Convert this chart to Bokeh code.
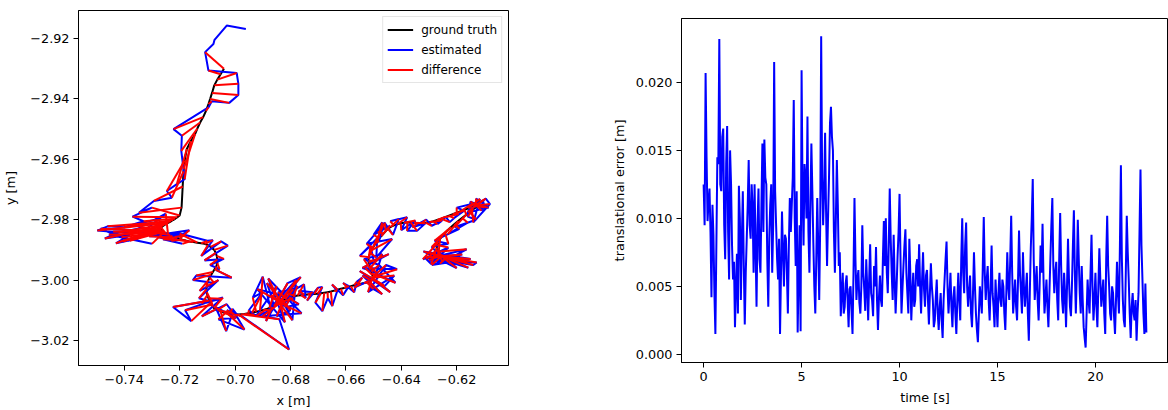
from bokeh.plotting import figure
from bokeh.layouts import row, column
from bokeh.models import Range1d, FixedTicker, CustomJSTickFormatter, ColumnDataSource, Spacer
from bokeh.embed import file_html
from bokeh.resources import INLINE

# ---------------- trajectory data (left panel) ----------------
gt_x = [
    -0.7040, -0.7052, -0.7064, -0.7075, -0.7083, -0.7090, -0.7096, -0.7105, -0.7115, -0.7126,
    -0.7136, -0.7144, -0.7160, -0.7174, -0.7182, -0.7186, -0.7189, -0.7193,
    -0.7200, -0.7208, -0.7216, -0.7224, -0.7232, -0.7240, -0.7248, -0.7256, -0.7262, -0.7266,
    -0.7268, -0.7266, -0.7262,
    -0.7261, -0.7260, -0.7259, -0.7258, -0.7257, -0.7257, -0.7256, -0.7256,
    -0.7256, -0.7250, -0.7242, -0.7234, -0.7226, -0.7218, -0.7210,
    -0.7200, -0.7190, -0.7178, -0.7165, -0.7150, -0.7136, -0.7122, -0.7110, -0.7098, -0.7088,
    -0.7075, -0.7070, -0.7066, -0.7064, -0.7064, -0.7068, -0.7074, -0.7080, -0.7086, -0.7092,
    -0.7096, -0.7100, -0.7102, -0.7103, -0.7102, -0.7100, -0.7096,
    -0.7092, -0.7088, -0.7084, -0.7080, -0.7076, -0.7070, -0.7064, -0.7058, -0.7052, -0.7046,
    -0.7040, -0.7034, -0.7028, -0.7020, -0.7012, -0.7004, -0.6996, -0.6988, -0.6978, -0.6966, -0.6952,
    -0.6938, -0.6924, -0.6910, -0.6898, -0.6886, -0.6876, -0.6866, -0.6858, -0.6851, -0.6845,
    -0.6840,
    -0.6839, -0.6838, -0.6838, -0.6837, -0.6837, -0.6836, -0.6836, -0.6836,
    -0.6836, -0.6832, -0.6828, -0.6824, -0.6819, -0.6813, -0.6806, -0.6798, -0.6790,
    -0.6782, -0.6774,
    -0.6762, -0.6750, -0.6738, -0.6726, -0.6714, -0.6702, -0.6690, -0.6678, -0.6666, -0.6654,
    -0.6642, -0.6630, -0.6618, -0.6606, -0.6594, -0.6582, -0.6570, -0.6558, -0.6546, -0.6534,
    -0.6524, -0.6516, -0.6510, -0.6506,
    -0.6505, -0.6505, -0.6504, -0.6504, -0.6504, -0.6504,
    -0.6504, -0.6504, -0.6506, -0.6508, -0.6510, -0.6512,
    -0.6514, -0.6516, -0.6518, -0.6518, -0.6518, -0.6517, -0.6515, -0.6512, -0.6508, -0.6503,
    -0.6498, -0.6492, -0.6486, -0.6479, -0.6472, -0.6464, -0.6456, -0.6448,
    -0.6438, -0.6426, -0.6414, -0.6402, -0.6390, -0.6378, -0.6366, -0.6354, -0.6340, -0.6326,
    -0.6312, -0.6298, -0.6284, -0.6270, -0.6256, -0.6242, -0.6228, -0.6214, -0.6200, -0.6186,
    -0.6172, -0.6158, -0.6146, -0.6136,
    -0.6134, -0.6132, -0.6131, -0.6130, -0.6129,
    -0.6128, -0.6124, -0.6128,
    -0.6140, -0.6152, -0.6166, -0.6180, -0.6194, -0.6208, -0.6220, -0.6232, -0.6242, -0.6252,
    -0.6260, -0.6266, -0.6270, -0.6272, -0.6272, -0.6270, -0.6268, -0.6265, -0.6262, -0.6258,
    -0.6257, -0.6256, -0.6256, -0.6255, -0.6255, -0.6254, -0.6254, -0.6254,
    -0.6254, -0.6250, -0.6246, -0.6242, -0.6238,
]
gt_y = [
    -2.9300, -2.9318, -2.9336, -2.9355, -2.9380, -2.9400, -2.9417, -2.9440, -2.9460, -2.9478,
    -2.9498, -2.9516, -2.9540, -2.9566, -2.9605, -2.9640, -2.9690, -2.9760,
    -2.9786, -2.9792, -2.9797, -2.9801, -2.9806, -2.9810, -2.9814, -2.9818, -2.9822, -2.9826,
    -2.9830, -2.9834, -2.9838,
    -2.9839, -2.9840, -2.9840, -2.9841, -2.9841, -2.9842, -2.9842, -2.9842,
    -2.9842, -2.9845, -2.9848, -2.9851, -2.9854, -2.9857, -2.9860,
    -2.9863, -2.9866, -2.9869, -2.9872, -2.9874, -2.9876, -2.9878, -2.9880, -2.9884, -2.9890,
    -2.9900, -2.9910, -2.9920, -2.9932, -2.9944, -2.9955, -2.9964, -2.9973, -2.9982, -2.9991,
    -3.0000, -3.0010, -3.0020, -3.0030, -3.0040, -3.0050, -3.0060,
    -3.0068, -3.0075, -3.0082, -3.0088, -3.0093, -3.0097, -3.0100, -3.0102, -3.0104, -3.0106,
    -3.0108, -3.0109, -3.0110, -3.0111, -3.0112, -3.0113, -3.0114, -3.0114, -3.0113, -3.0112, -3.0110,
    -3.0108, -3.0105, -3.0102, -3.0099, -3.0096, -3.0092, -3.0089, -3.0086, -3.0083, -3.0080,
    -3.0077,
    -3.0076, -3.0076, -3.0075, -3.0075, -3.0074, -3.0074, -3.0074, -3.0074,
    -3.0074, -3.0071, -3.0068, -3.0065, -3.0063, -3.0061, -3.0059, -3.0057, -3.0055,
    -3.0053, -3.0051,
    -3.0050, -3.0049, -3.0048, -3.0047, -3.0046, -3.0045, -3.0044, -3.0042, -3.0040, -3.0038,
    -3.0035, -3.0032, -3.0029, -3.0026, -3.0023, -3.0020, -3.0017, -3.0014, -3.0012, -3.0010,
    -3.0008, -3.0005, -3.0001, -2.9996,
    -2.9995, -2.9994, -2.9993, -2.9992, -2.9991, -2.9991,
    -2.9990, -2.9984, -2.9978, -2.9972, -2.9966, -2.9960,
    -2.9954, -2.9948, -2.9942, -2.9936, -2.9930, -2.9924, -2.9917, -2.9910, -2.9902, -2.9894,
    -2.9886, -2.9878, -2.9870, -2.9862, -2.9854, -2.9846, -2.9838, -2.9830,
    -2.9824, -2.9819, -2.9815, -2.9812, -2.9810, -2.9809, -2.9809, -2.9810, -2.9811, -2.9811,
    -2.9810, -2.9808, -2.9805, -2.9801, -2.9797, -2.9792, -2.9787, -2.9782, -2.9777, -2.9772,
    -2.9767, -2.9762, -2.9758, -2.9754,
    -2.9754, -2.9753, -2.9753, -2.9752, -2.9752,
    -2.9752, -2.9754, -2.9758,
    -2.9765, -2.9774, -2.9784, -2.9794, -2.9804, -2.9814, -2.9824, -2.9834, -2.9844, -2.9854,
    -2.9864, -2.9874, -2.9884, -2.9893, -2.9900, -2.9906, -2.9911, -2.9915, -2.9918, -2.9920,
    -2.9920, -2.9921, -2.9921, -2.9921, -2.9922, -2.9922, -2.9922, -2.9922,
    -2.9922, -2.9923, -2.9924, -2.9925, -2.9926,
]
# estimated positions [m]; the first 4 samples precede the ground-truth record
est_lead = 4
est_x = [
    -0.6961, -0.7030, -0.7074, -0.7078,
    -0.7108, -0.7096, -0.6994, -0.6988, -0.6988, -0.7021, -0.7084, -0.7096, -0.7222, -0.7192,
    -0.7194, -0.7186, -0.7182, -0.7210, -0.7246, -0.7228, -0.7293, -0.7347,
    -0.7300, -0.7370, -0.7330, -0.7400, -0.7460, -0.7497, -0.7420, -0.7470, -0.7380, -0.7430,
    -0.7350, -0.7405, -0.7320,
    -0.7440, -0.7380, -0.7485, -0.7350, -0.7410, -0.7300, -0.7455, -0.7330,
    -0.7365, -0.7290, -0.7250, -0.7330, -0.7260, -0.7180, -0.7310,
    -0.7165, -0.7230, -0.7260, -0.7190, -0.7275, -0.7200, -0.7100, -0.7080, -0.7122, -0.7050,
    -0.7026, -0.7110, -0.7040, -0.7090, -0.7056, -0.7068, -0.7012, -0.7140, -0.7152, -0.7075,
    -0.7128, -0.7104, -0.7060, -0.7130, -0.7085, -0.7120, -0.7050,
    -0.7224, -0.7158, -0.7180, -0.7086, -0.7044, -0.7120, -0.7030, -0.7008, -0.7032, -0.7070,
    -0.6996, -0.7060, -0.6966, -0.7010, -0.6990, -0.7030, -0.6975, -0.6805, -0.6840, -0.6930, -0.6950,
    -0.6900, -0.6936, -0.6900, -0.6870, -0.6924, -0.6850, -0.6888, -0.6810, -0.6763, -0.6830,
    -0.6793,
    -0.6780, -0.6900, -0.6760, -0.6880, -0.6820, -0.6920, -0.6790, -0.6860,
    -0.6870, -0.6885, -0.6800, -0.6850, -0.6790, -0.6845, -0.6770, -0.6820, -0.6775,
    -0.6810, -0.6751,
    -0.6745, -0.6770, -0.6720, -0.6740, -0.6700, -0.6685, -0.6710, -0.6685, -0.6665, -0.6649,
    -0.6631, -0.6650, -0.6610, -0.6589, -0.6610, -0.6570, -0.6560, -0.6541, -0.6570, -0.6517,
    -0.6500, -0.6469, -0.6540, -0.6480,
    -0.6440, -0.6550, -0.6460, -0.6425, -0.6520, -0.6455,
    -0.6415, -0.6530, -0.6421, -0.6480, -0.6535, -0.6469,
    -0.6490, -0.6540, -0.6445, -0.6500, -0.6511, -0.6550, -0.6487, -0.6490, -0.6433, -0.6525,
    -0.6463, -0.6480, -0.6469, -0.6500, -0.6440, -0.6485, -0.6460, -0.6430,
    -0.6409, -0.6440, -0.6379, -0.6400, -0.6349, -0.6379, -0.6343, -0.6313, -0.6360, -0.6310,
    -0.6290, -0.6253, -0.6270, -0.6240, -0.6225, -0.6193, -0.6210, -0.6173, -0.6200, -0.6146,
    -0.6165, -0.6116, -0.6140, -0.6080,
    -0.6095, -0.6160, -0.6085, -0.6130, -0.6110,
    -0.6105, -0.6100, -0.6150,
    -0.6160, -0.6130, -0.6208, -0.6160, -0.6232, -0.6190, -0.6260, -0.6280, -0.6230, -0.6290,
    -0.6266, -0.6322, -0.6230, -0.6292, -0.6310, -0.6164, -0.6250, -0.6164, -0.6300, -0.6128,
    -0.6140, -0.6310, -0.6180, -0.6290, -0.6150, -0.6320, -0.6200, -0.6270,
    -0.6280, -0.6158, -0.6300, -0.6200, -0.6260,
]
est_y = [
    -2.9168, -2.9157, -2.9204, -2.9218,
    -2.9245, -2.9306, -2.9314, -2.9350, -2.9387, -2.9413, -2.9408, -2.9428, -2.9500, -2.9522,
    -2.9572, -2.9633, -2.9666, -2.9682, -2.9705, -2.9727, -2.9738, -2.9777,
    -2.9760, -2.9790, -2.9805, -2.9825, -2.9822, -2.9836, -2.9842, -2.9862, -2.9850, -2.9878,
    -2.9862, -2.9872, -2.9845,
    -2.9840, -2.9870, -2.9830, -2.9835, -2.9858, -2.9880, -2.9850, -2.9826,
    -2.9818, -2.9800, -2.9780, -2.9838, -2.9862, -2.9852, -2.9855,
    -2.9835, -2.9870, -2.9865, -2.9880, -2.9858, -2.9846, -2.9870, -2.9868, -2.9920, -2.9872,
    -2.9886, -2.9935, -2.9930, -2.9950, -2.9964, -2.9967, -2.9992, -2.9985, -3.0000, -3.0010,
    -3.0036, -3.0025, -3.0000, -3.0060, -3.0072, -3.0078, -3.0062,
    -3.0089, -3.0136, -3.0100, -3.0069, -3.0058, -3.0120, -3.0080, -3.0108, -3.0169, -3.0090,
    -3.0125, -3.0130, -3.0164, -3.0095, -3.0118, -3.0100, -3.0120, -3.0230, -3.0130, -3.0115, -3.0100,
    -3.0040, -3.0058, -2.9989, -3.0100, -3.0119, -3.0020, -3.0136, -3.0010, -2.9990, -3.0065,
    -3.0133,
    -3.0000, -3.0120, -3.0110, -2.9995, -3.0140, -3.0030, -3.0060, -3.0085,
    -3.0050, -3.0010, -3.0100, -3.0120, -3.0030, -3.0040, -3.0080, -3.0090, -3.0020,
    -3.0045, -3.0014,
    -3.0060, -3.0035, -3.0040, -3.0068, -3.0025, -3.0023, -3.0075, -3.0103, -3.0060, -3.0086,
    -3.0036, -3.0015, -3.0050, -3.0020, -3.0010, -3.0040, -3.0005, -2.9992, -3.0025, -3.0003,
    -3.0030, -3.0047, -2.9985, -3.0010,
    -3.0040, -2.9970, -3.0020, -2.9985, -3.0040, -2.9950,
    -2.9964, -2.9960, -3.0009, -2.9950, -2.9931, -2.9914,
    -2.9975, -2.9960, -2.9914, -2.9935, -2.9886, -2.9920, -2.9861, -2.9925, -2.9864, -2.9880,
    -2.9814, -2.9870, -2.9809, -2.9850, -2.9820, -2.9840, -2.9810, -2.9850,
    -2.9798, -2.9805, -2.9792, -2.9835, -2.9803, -2.9837, -2.9837, -2.9812, -2.9825, -2.9800,
    -2.9820, -2.9803, -2.9815, -2.9790, -2.9808, -2.9781, -2.9795, -2.9770, -2.9760, -2.9748,
    -2.9785, -2.9731, -2.9809, -2.9748,
    -2.9730, -2.9775, -2.9760, -2.9730, -2.9770,
    -2.9735, -2.9760, -2.9740,
    -2.9790, -2.9800, -2.9825, -2.9810, -2.9848, -2.9830, -2.9860, -2.9870, -2.9880, -2.9890,
    -2.9914, -2.9931, -2.9892, -2.9947, -2.9930, -2.9898, -2.9940, -2.9942, -2.9935, -2.9942,
    -2.9950, -2.9925, -2.9915, -2.9950, -2.9930, -2.9905, -2.9960, -2.9900,
    -2.9925, -2.9959, -2.9910, -2.9935, -2.9945,
]

# ---------------- error data (right panel) ----------------
time_s = [
    0.00, 0.05, 0.10, 0.15, 0.20, 0.25, 0.30, 0.35, 0.40, 0.45, 0.50, 0.55, 0.60, 0.65, 0.70, 0.75, 0.80, 0.85, 0.90, 0.95,
    1.00, 1.05, 1.10, 1.15, 1.20, 1.25, 1.30, 1.35, 1.40, 1.45, 1.50, 1.55, 1.60, 1.65, 1.70, 1.75, 1.80, 1.85, 1.90, 1.95,
    2.00, 2.05, 2.10, 2.15, 2.20, 2.25, 2.30, 2.35, 2.40, 2.45, 2.50, 2.55, 2.60, 2.65, 2.70, 2.75, 2.80, 2.85, 2.90, 2.95,
    3.00, 3.05, 3.10, 3.15, 3.20, 3.25, 3.30, 3.35, 3.40, 3.45, 3.50, 3.55, 3.60, 3.65, 3.70, 3.75, 3.80, 3.85, 3.90, 3.95,
    4.00, 4.05, 4.10, 4.15, 4.20, 4.25, 4.30, 4.35, 4.40, 4.45, 4.50, 4.55, 4.60, 4.65, 4.70, 4.75, 4.80, 4.85, 4.90, 4.95,
    5.00, 5.05, 5.10, 5.15, 5.20, 5.25, 5.30, 5.35, 5.40, 5.45, 5.50, 5.55, 5.60, 5.65, 5.70, 5.75, 5.80, 5.85, 5.90, 5.95,
    6.00, 6.05, 6.10, 6.15, 6.20, 6.25, 6.30, 6.35, 6.40, 6.45, 6.50, 6.55, 6.60, 6.65, 6.70, 6.75, 6.80, 6.85, 6.90, 6.95,
    7.00, 7.05, 7.10, 7.15, 7.20, 7.25, 7.30, 7.35, 7.40, 7.45, 7.50, 7.55, 7.60, 7.65, 7.70, 7.75, 7.80, 7.85, 7.90, 7.95,
    8.00, 8.05, 8.10, 8.15, 8.20, 8.25, 8.30, 8.35, 8.40, 8.45, 8.50, 8.55, 8.60, 8.65, 8.70, 8.75, 8.80, 8.85, 8.90, 8.95,
    9.00, 9.05, 9.10, 9.15, 9.20, 9.25, 9.30, 9.35, 9.40, 9.45, 9.50, 9.55, 9.60, 9.65, 9.70, 9.75, 9.80, 9.85, 9.90, 9.95,
    10.00, 10.05, 10.10, 10.15, 10.20, 10.25, 10.30, 10.35, 10.40, 10.45, 10.50, 10.55, 10.60, 10.65, 10.70, 10.75, 10.80, 10.85, 10.90, 10.95,
    11.00, 11.05, 11.10, 11.15, 11.20, 11.25, 11.30, 11.35, 11.40, 11.45, 11.50, 11.55, 11.60, 11.65, 11.70, 11.75, 11.80, 11.85, 11.90, 11.95,
    12.00, 12.05, 12.10, 12.15, 12.20, 12.25, 12.30, 12.35, 12.40, 12.45, 12.50, 12.55, 12.60, 12.65, 12.70, 12.75, 12.80, 12.85, 12.90, 12.95,
    13.00, 13.05, 13.10, 13.15, 13.20, 13.25, 13.30, 13.35, 13.40, 13.45, 13.50, 13.55, 13.60, 13.65, 13.70, 13.75, 13.80, 13.85, 13.90, 13.95,
    14.00, 14.05, 14.10, 14.15, 14.20, 14.25, 14.30, 14.35, 14.40, 14.45, 14.50, 14.55, 14.60, 14.65, 14.70, 14.75, 14.80, 14.85, 14.90, 14.95,
    15.00, 15.05, 15.10, 15.15, 15.20, 15.25, 15.30, 15.35, 15.40, 15.45, 15.50, 15.55, 15.60, 15.65, 15.70, 15.75, 15.80, 15.85, 15.90, 15.95,
    16.00, 16.05, 16.10, 16.15, 16.20, 16.25, 16.30, 16.35, 16.40, 16.45, 16.50, 16.55, 16.60, 16.65, 16.70, 16.75, 16.80, 16.85, 16.90, 16.95,
    17.00, 17.05, 17.10, 17.15, 17.20, 17.25, 17.30, 17.35, 17.40, 17.45, 17.50, 17.55, 17.60, 17.65, 17.70, 17.75, 17.80, 17.85, 17.90, 17.95,
    18.00, 18.05, 18.10, 18.15, 18.20, 18.25, 18.30, 18.35, 18.40, 18.45, 18.50, 18.55, 18.60, 18.65, 18.70, 18.75, 18.80, 18.85, 18.90, 18.95,
    19.00, 19.05, 19.10, 19.15, 19.20, 19.25, 19.30, 19.35, 19.40, 19.45, 19.50, 19.55, 19.60, 19.65, 19.70, 19.75, 19.80, 19.85, 19.90, 19.95,
    20.00, 20.05, 20.10, 20.15, 20.20, 20.25, 20.30, 20.35, 20.40, 20.45, 20.50, 20.55, 20.60, 20.65, 20.70, 20.75, 20.80, 20.85, 20.90, 20.95,
    21.00, 21.05, 21.10, 21.15, 21.20, 21.25, 21.30, 21.35, 21.40, 21.45, 21.50, 21.55, 21.60, 21.65, 21.70, 21.75, 21.80, 21.85, 21.90, 21.95,
    22.00, 22.05, 22.10, 22.15, 22.20, 22.25, 22.30, 22.35, 22.40, 22.45, 22.50, 22.55, 22.60,
]
trans_err = [
    0.0125, 0.0095, 0.0207, 0.0145, 0.0098, 0.0112, 0.0122, 0.0090, 0.0042, 0.0110, 0.0088, 0.0045, 0.0015, 0.0080, 0.0145, 0.0140, 0.0232, 0.0125, 0.0120, 0.0160,
    0.0166, 0.0095, 0.0070, 0.0140, 0.0168, 0.0090, 0.0055, 0.0150, 0.0125, 0.0080, 0.0055, 0.0068, 0.0020, 0.0050, 0.0074, 0.0030, 0.0124, 0.0100, 0.0040, 0.0085,
    0.0120, 0.0065, 0.0022, 0.0060, 0.0085, 0.0110, 0.0143, 0.0095, 0.0085, 0.0125, 0.0108, 0.0060, 0.0125, 0.0080, 0.0035, 0.0095, 0.0122, 0.0070, 0.0060, 0.0110,
    0.0155, 0.0090, 0.0158, 0.0130, 0.0125, 0.0070, 0.0035, 0.0085, 0.0110, 0.0125, 0.0060, 0.0095, 0.0215, 0.0120, 0.0095, 0.0070, 0.0055, 0.0085, 0.0015, 0.0060,
    0.0105, 0.0075, 0.0050, 0.0088, 0.0085, 0.0060, 0.0030, 0.0080, 0.0115, 0.0090, 0.0110, 0.0130, 0.0187, 0.0100, 0.0065, 0.0120, 0.0016, 0.0060, 0.0095, 0.0017,
    0.0209, 0.0120, 0.0080, 0.0140, 0.0130, 0.0100, 0.0175, 0.0090, 0.0060, 0.0110, 0.0155, 0.0120, 0.0082, 0.0050, 0.0030, 0.0070, 0.0115, 0.0080, 0.0040, 0.0095,
    0.0234, 0.0130, 0.0095, 0.0120, 0.0163, 0.0105, 0.0065, 0.0100, 0.0130, 0.0170, 0.0182, 0.0160, 0.0150, 0.0090, 0.0060, 0.0100, 0.0143, 0.0110, 0.0065, 0.0075,
    0.0028, 0.0045, 0.0060, 0.0030, 0.0035, 0.0052, 0.0058, 0.0040, 0.0020, 0.0048, 0.0050, 0.0032, 0.0015, 0.0060, 0.0115, 0.0070, 0.0040, 0.0055, 0.0062, 0.0038,
    0.0030, 0.0050, 0.0095, 0.0060, 0.0048, 0.0032, 0.0070, 0.0050, 0.0025, 0.0055, 0.0081, 0.0045, 0.0040, 0.0028, 0.0065, 0.0050, 0.0079, 0.0040, 0.0018, 0.0042,
    0.0058, 0.0040, 0.0035, 0.0070, 0.0098, 0.0065, 0.0100, 0.0060, 0.0045, 0.0080, 0.0122, 0.0085, 0.0060, 0.0040, 0.0088, 0.0055, 0.0030, 0.0050, 0.0072, 0.0090,
    0.0118, 0.0070, 0.0030, 0.0048, 0.0065, 0.0080, 0.0092, 0.0060, 0.0045, 0.0030, 0.0085, 0.0060, 0.0025, 0.0045, 0.0060, 0.0035, 0.0040, 0.0065, 0.0070, 0.0050,
    0.0081, 0.0050, 0.0030, 0.0055, 0.0075, 0.0048, 0.0035, 0.0058, 0.0062, 0.0040, 0.0022, 0.0045, 0.0067, 0.0050, 0.0040, 0.0020, 0.0025, 0.0042, 0.0055, 0.0030,
    0.0018, 0.0035, 0.0045, 0.0025, 0.0012, 0.0040, 0.0055, 0.0070, 0.0083, 0.0050, 0.0030, 0.0045, 0.0060, 0.0035, 0.0020, 0.0042, 0.0050, 0.0030, 0.0015, 0.0040,
    0.0060, 0.0040, 0.0025, 0.0070, 0.0100, 0.0060, 0.0045, 0.0080, 0.0097, 0.0050, 0.0035, 0.0048, 0.0058, 0.0030, 0.0020, 0.0045, 0.0075, 0.0050, 0.0030, 0.0018,
    0.0009, 0.0030, 0.0050, 0.0040, 0.0030, 0.0065, 0.0101, 0.0060, 0.0040, 0.0055, 0.0065, 0.0040, 0.0025, 0.0050, 0.0080, 0.0045, 0.0035, 0.0020, 0.0055, 0.0038,
    0.0020, 0.0045, 0.0060, 0.0040, 0.0035, 0.0055, 0.0050, 0.0030, 0.0018, 0.0045, 0.0075, 0.0050, 0.0040, 0.0070, 0.0102, 0.0060, 0.0030, 0.0042, 0.0055, 0.0035,
    0.0025, 0.0055, 0.0091, 0.0060, 0.0045, 0.0030, 0.0075, 0.0050, 0.0035, 0.0048, 0.0060, 0.0030, 0.0010, 0.0045, 0.0078, 0.0100, 0.0129, 0.0070, 0.0040, 0.0052,
    0.0065, 0.0040, 0.0025, 0.0050, 0.0080, 0.0060, 0.0096, 0.0055, 0.0030, 0.0042, 0.0055, 0.0035, 0.0020, 0.0045, 0.0070, 0.0095, 0.0115, 0.0065, 0.0045, 0.0060,
    0.0068, 0.0040, 0.0025, 0.0070, 0.0104, 0.0065, 0.0040, 0.0030, 0.0060, 0.0045, 0.0020, 0.0050, 0.0085, 0.0055, 0.0035, 0.0028, 0.0050, 0.0080, 0.0106, 0.0060,
    0.0030, 0.0060, 0.0099, 0.0070, 0.0045, 0.0030, 0.0065, 0.0040, 0.0020, 0.0012, 0.0005, 0.0030, 0.0055, 0.0040, 0.0030, 0.0060, 0.0088, 0.0050, 0.0025, 0.0040,
    0.0060, 0.0035, 0.0020, 0.0050, 0.0078, 0.0055, 0.0035, 0.0045, 0.0055, 0.0030, 0.0015, 0.0070, 0.0102, 0.0065, 0.0050, 0.0030, 0.0025, 0.0050, 0.0045, 0.0028,
    0.0015, 0.0040, 0.0068, 0.0045, 0.0030, 0.0080, 0.0139, 0.0070, 0.0040, 0.0025, 0.0020, 0.0060, 0.0102, 0.0075, 0.0055, 0.0030, 0.0012, 0.0035, 0.0045, 0.0030,
    0.0025, 0.0040, 0.0010, 0.0030, 0.0045, 0.0090, 0.0136, 0.0080, 0.0055, 0.0030, 0.0015, 0.0052, 0.0016,
]

x_ticks = [-0.74, -0.72, -0.70, -0.68, -0.66, -0.64, -0.62]
y_ticks = [-3.02, -3.00, -2.98, -2.96, -2.94, -2.92]
t_ticks = [0, 5, 10, 15, 20]
e_ticks = [0.000, 0.005, 0.010, 0.015, 0.020]

FONT = "DejaVu Sans"
FS = "12.8px"
LW = 2.0


def style(p):
    p.xgrid.visible = False
    p.ygrid.visible = False
    p.outline_line_color = "black"
    p.outline_line_width = 1
    p.background_fill_color = "white"
    p.border_fill_color = "white"
    for ax in (p.xaxis[0], p.yaxis[0]):
        ax.axis_line_color = "black"
        ax.major_tick_line_color = "black"
        ax.major_tick_out = 5
        ax.major_tick_in = 0
        ax.minor_tick_line_color = None
        ax.major_label_text_font = FONT
        ax.major_label_text_font_size = FS
        ax.major_label_text_color = "black"
        ax.axis_label_text_font = FONT
        ax.axis_label_text_font_size = FS
        ax.axis_label_text_font_style = "normal"
        ax.axis_label_text_color = "black"
        ax.major_label_standoff = 4
        ax.axis_label_standoff = 6


# ---------------- left panel ----------------
p1 = figure(width=560, height=410, output_backend="svg", toolbar_location=None, title=None,
            x_range=Range1d(-0.7565, -0.6013), y_range=Range1d(-3.0283, -2.9107),
            min_border_left=76, min_border_right=52, min_border_top=10, min_border_bottom=45)
style(p1)
minus = CustomJSTickFormatter(code="return tick.toFixed(2).replace('-', '\u2212');")
p1.xaxis.ticker = FixedTicker(ticks=x_ticks)
p1.yaxis.ticker = FixedTicker(ticks=y_ticks)
p1.xaxis.formatter = minus
p1.yaxis.formatter = minus
p1.xaxis.axis_label = "x [m]"
p1.yaxis.axis_label = "y [m]"
p1.yaxis.axis_label_standoff = 9

n = min(len(gt_x), len(gt_y), len(est_x) - est_lead, len(est_y) - est_lead)
diff_src = ColumnDataSource(dict(
    gx=gt_x[:n], gy=gt_y[:n],
    ex=est_x[est_lead:est_lead + n], ey=est_y[est_lead:est_lead + n]))

p1.line(gt_x, gt_y, line_color="black", line_width=LW, legend_label="ground truth")
p1.line(est_x, est_y, line_color="blue", line_width=LW, legend_label="estimated")
p1.segment(x0="gx", y0="gy", x1="ex", y1="ey", source=diff_src,
           line_color="red", line_width=LW, legend_label="difference")

lg = p1.legend[0]
lg.location = "top_right"
lg.margin = 6
lg.padding = 4
lg.spacing = 3
lg.glyph_width = 26
lg.glyph_height = 17
lg.label_height = 17
lg.label_standoff = 8
lg.label_text_font = FONT
lg.label_text_font_size = "12px"
lg.label_text_color = "black"
lg.border_line_color = "#cccccc"
lg.border_line_width = 1
lg.background_fill_alpha = 0.8

# ---------------- right panel ----------------
p2 = figure(width=608, height=399, output_backend="svg", toolbar_location=None, title=None,
            x_range=Range1d(-1.13, 23.73), y_range=Range1d(-0.0006, 0.0247),
            min_border_left=121, min_border_right=0, min_border_top=10, min_border_bottom=45)
style(p2)
p2.xaxis.ticker = FixedTicker(ticks=t_ticks)
p2.yaxis.ticker = FixedTicker(ticks=e_ticks)
p2.xaxis.formatter = CustomJSTickFormatter(code="return tick.toFixed(0);")
p2.yaxis.formatter = CustomJSTickFormatter(code="return tick.toFixed(3);")
p2.xaxis.axis_label = "time [s]"
p2.yaxis.axis_label = "translational error [m]"
p2.line(time_s, trans_err, line_color="blue", line_width=LW)

layout = row(p1, column(Spacer(width=608, height=8), p2, spacing=0), spacing=0)
open("out.html", "w").write(file_html(layout, INLINE))
